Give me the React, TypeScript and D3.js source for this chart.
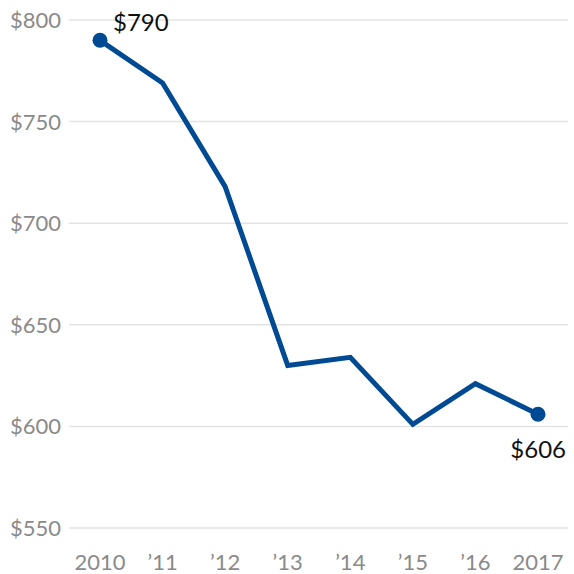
import React from "react";
import * as d3 from "d3";

const years = [2010, 2011, 2012, 2013, 2014, 2015, 2016, 2017];
const values = [790, 769, 718, 630, 634, 601, 621, 606];
const yTicks = [550, 600, 650, 700, 750, 800];
const xLabels = ["2010", "\u201911", "\u201912", "\u201913", "\u201914", "\u201915", "\u201916", "2017"];

export default function App() {
  const W = 574, H = 574;
  const x = d3.scaleLinear().domain([2010, 2017]).range([100, 538]);
  const y = d3.scaleLinear().domain([550, 800]).range([528, 20]);
  const line = d3.line<number>().x((_, i) => x(years[i])).y((d) => y(d));
  const font = "Lato, 'Open Sans', sans-serif";
  const color = "#004a93";
  const last = values.length - 1;
  return (
    <svg width={W} height={H} style={{ position: "absolute", left: 0, top: 0 }}>
      {yTicks.map((t) => (
        <g key={t}>
          <line x1={69} x2={568} y1={y(t)} y2={y(t)} stroke="#e3e3e3" strokeWidth={1.5} />
          <text x={61} y={y(t) + 8} textAnchor="end" fontFamily={font} fontSize={22} fill="#8a8a8a">
            ${t}
          </text>
        </g>
      ))}
      {years.map((yr, i) => (
        <text key={yr} x={x(yr)} y={570} textAnchor="middle" fontFamily={font} fontSize={22} fill="#8a8a8a">
          {xLabels[i]}
        </text>
      ))}
      <path d={line(values) || ""} fill="none" stroke={color} strokeWidth={5} strokeLinejoin="miter" />
      <circle cx={x(years[0])} cy={y(values[0])} r={7.5} fill={color} />
      <circle cx={x(years[last])} cy={y(values[last])} r={7.5} fill={color} />
      <text x={113} y={31} fontFamily={font} fontSize={24} fill="#111">${values[0]}</text>
      <text x={566} y={458} textAnchor="end" fontFamily={font} fontSize={24} fill="#111">${values[last]}</text>
    </svg>
  );
}
